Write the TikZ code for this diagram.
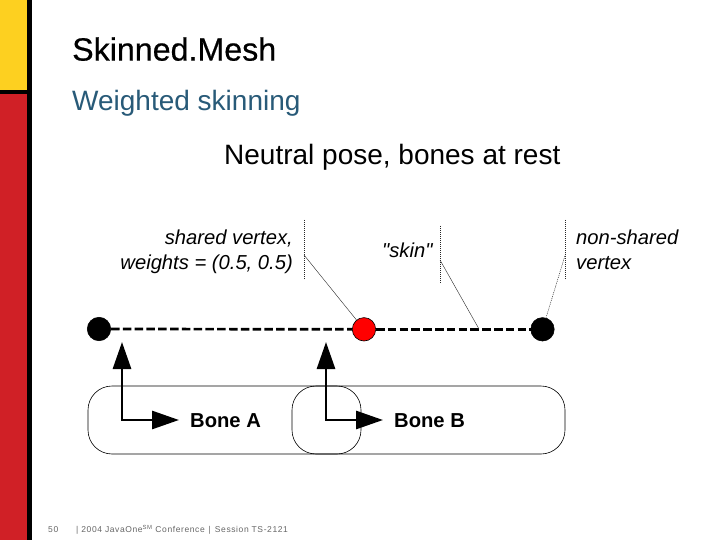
\documentclass[tikz,border=0pt]{standalone}
\usepackage{fontspec}
\setmainfont{Liberation Sans}
\newfontfamily\rawfont{Liberation Sans}
\newfontfamily\spacedfont{Liberation Sans}[LetterSpace=7]
\newfontfamily\heavyfont{Liberation Sans}[FakeBold=0.5]
\usetikzlibrary{arrows.meta}
\definecolor{myyellow}{RGB}{253,208,32}
\definecolor{myred}{RGB}{208,32,38}
\definecolor{subblue}{RGB}{40,90,120}
\tikzset{
 leader/.style={draw=black!85,line width=0.4pt},
 vleader/.style={draw=black!85,line width=0.5pt,dash pattern=on 1pt off 1pt},
 boxb/.style={draw=black,line width=0.6pt,rounded corners=24pt},
 joint/.style={circle,draw=black,fill=black,line width=0.6pt,minimum size=23.4pt,inner sep=0pt},
 axis/.style={line width=2.8pt,line cap=rect,-{Triangle[length=27pt,width=18pt]}},
 skinline/.style={line width=2.7pt,dash pattern=on 8.5pt off 3.3pt},
 lbl/.style={inner sep=0pt,font=\fontsize{20.2}{24}\selectfont\itshape,align=left},
 bonelbl/.style={inner sep=0pt,anchor=base west,font=\fontsize{20.2}{22}\selectfont\bfseries},
 foot/.style={inner sep=0pt,anchor=base west,text=black!60,font=\fontsize{8.5}{10}\spacedfont},
}
\begin{document}
\begin{tikzpicture}[x=1pt,y=-1pt]
\useasboundingbox (0,0) rectangle (720,540);
\fill[white] (0,0) rectangle (720,540);
\fill[myyellow] (0,0) rectangle (27,90);
\fill[myred] (0,94) rectangle (27,540);
\fill[black] (0,90) rectangle (27,94);
\fill[black] (27,0) rectangle (32,540);
\node[inner sep=0pt,anchor=base west,font=\fontsize{32.2}{36}\heavyfont] (title) at (72,60.6) {Skinned.Mesh};
\node[inner sep=0pt,anchor=base west,text=subblue,font=\fontsize{28}{32}\selectfont] (sub) at (72,111) {Weighted skinning};
\node[inner sep=0pt,anchor=base west,font=\fontsize{28}{32}\selectfont] (head) at (224,165) {Neutral pose, bones at rest};
% leaders
\coordinate (l1t) at (304,220); \coordinate (l1b) at (304,280); \coordinate (l1m) at (304,255);
\coordinate (l2t) at (440,226); \coordinate (l2b) at (440,283); \coordinate (l2m) at (440,260);
\coordinate (l3t) at (565.5,220); \coordinate (l3b) at (565.5,280); \coordinate (l3m) at (565.5,254);
\coordinate (skinpt) at (479,329);
\draw[vleader] (l1t) -- (l1b);
\draw[vleader] (l2t) -- (l2b);
\draw[vleader] (l3t) -- (l3b);
% boxes
\node[boxb,minimum width=273pt,minimum height=68pt,inner sep=0pt] (boxa) at (224.5,420) {};
\node[boxb,minimum width=273pt,minimum height=68pt,inner sep=0pt] (boxb) at (428.5,420) {};
% joints
\node[joint] (ja) at (99,329) {};
\node[joint,fill=red] (js) at (364,329.3) {};
\node[joint] (jb) at (542.5,329.3) {};
\draw[skinline] (ja) -- (js);
\draw[skinline] (js) -- (jb);
\draw[leader] (l1m) -- (js);
\draw[leader] (l2m) -- (skinpt);
\draw[vleader] (l3m) -- (jb);
% axes
\coordinate (oa) at (122,420); \coordinate (ob) at (326,420);
\coordinate (oau) at (122,342); \coordinate (oar) at (179,420);
\coordinate (obu) at (326,342); \coordinate (obr) at (383,420);
\draw[axis] (oa) -- (oau);
\draw[axis] (oa) -- (oar);
\draw[axis] (ob) -- (obu);
\draw[axis] (ob) -- (obr);
\node[bonelbl] (ba) at (190,427) {Bone A};
\node[bonelbl] (bb) at (394,427) {Bone B};
% labels
\node[lbl,anchor=base east,align=right] (t1) at (293,244) {shared vertex,};
\node[lbl,anchor=base east,align=right] (t1b) at (293,269) {weights = (0.5, 0.5)};
\node[lbl,anchor=base west,font=\fontsize{20.2}{24}\rawfont\itshape] (t2) at (382,257) {"skin"};
\node[lbl,anchor=base west] (t3) at (576,244) {non-shared};
\node[lbl,anchor=base west] (t3b) at (576,269) {vertex};
% footer
\node[foot] (f1) at (48,532) {50};
\node[foot] (f2) at (76,532) {|\hspace{3pt}2004 JavaOne\textsuperscript{SM} Conference\hspace{4pt}|\hspace{4pt}Session TS-2121};
\end{tikzpicture}
\end{document}
